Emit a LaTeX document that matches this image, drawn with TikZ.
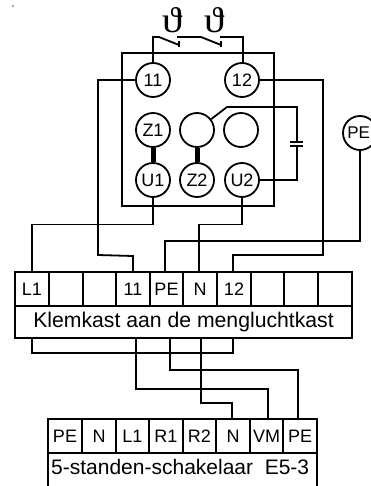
\documentclass[tikz,border=0pt]{standalone}
\usepackage{fontspec}
\setmainfont{Liberation Sans}
\newfontfamily\thetafont{Liberation Serif}
\tikzset{
  wire/.style={line width=1.8pt,line join=miter},
  term/.style={circle,draw,line width=1.8pt,minimum size=34pt,inner sep=0pt,font=\fontsize{18}{18}\selectfont},
  cell/.style={draw,line width=1.8pt,rectangle,inner sep=0pt,font=\fontsize{18}{18}\selectfont},
  wide/.style={draw,line width=1.8pt,rectangle,inner sep=0pt,font=\fontsize{21.2}{21.2}\selectfont},
  therm/.style={inner sep=0pt,font=\thetafont\fontsize{36}{36}\selectfont,xscale=1.15,transform shape},
  link/.style={line width=5pt}
}
\newcommand{\cellat}[6]{\node[cell,minimum width=#3 pt-#1 pt,minimum height=#4 pt-#2 pt] (#5) at ({(#1+#3)/2},{(#2+#4)/2}) {#6};}
\begin{document}
\begin{tikzpicture}[x=1pt,y=-1pt]
\useasboundingbox (0,0) rectangle (370,486);
\fill[white] (0,0) rectangle (370,486);
\fill[gray!70] (12,5) rectangle (14,7);
% housing
\node[draw,line width=1.8pt,minimum width=152pt,minimum height=153pt,inner sep=0pt] (house) at (198,129.5) {};
% terminals
\node[term] (t11) at (153,80) {11};
\node[term] (t12) at (242,80) {12};
\node[term] (z1) at (153,130) {Z1};
\node[term] (b1) at (197,130) {};
\node[term] (b2) at (241,130) {};
\node[term] (u1) at (153,180) {U1};
\node[term] (z2) at (197,180) {Z2};
\node[term] (u2) at (242,180) {U2};
\node[term] (pe) at (360,133) {};
\node[inner sep=0pt,font=\fontsize{17}{17}\selectfont] (pelabel) at (358.7,133) {PE};
\draw[link] (z1) -- (u1);
\draw[link] (b1) -- (z2);
% thermal contacts
\node[therm] (th1) at (172,20) {ϑ};
\node[therm] (th2) at (214,20) {ϑ};
\draw[wire] (t11.north) -- (153,37) -- (159,37) -- (179,45);
\draw[wire] (179,41.5) -- (179,47.5);
\draw[wire] (177,37) -- (201,37) -- (221,45);
\draw[wire] (221,41.5) -- (221,47.5);
\draw[wire] (220,37) -- (243,37) -- (243,63);
% capacitor
\coordinate (cap1) at (297,142);
\coordinate (cap2) at (297,146);
\draw[wire] (b1) -- (227,107) -- (297,107) -- (cap1);
\draw[wire] (290,142) -- (303,142);
\draw[wire] (290,146) -- (303,146);
\draw[wire] (cap2) -- (297,180) -- (u2.east);
% upper terminal strip
\cellat{15}{272}{49}{306}{k1}{L1}
\cellat{49}{272}{83}{306}{k2}{}
\cellat{83}{272}{116}{306}{k3}{}
\cellat{116}{272}{150}{306}{k4}{11}
\cellat{150}{272}{183}{306}{k5}{PE}
\cellat{183}{272}{217}{306}{k6}{N}
\cellat{217}{272}{251}{306}{k7}{12}
\cellat{251}{272}{284}{306}{k8}{}
\cellat{284}{272}{318}{306}{k9}{}
\cellat{318}{272}{352}{306}{k10}{}
\node[wide,minimum width=337pt,minimum height=32pt] (kast) at (183.5,322) {Klemkast aan de mengluchtkast};
% wires to strip
\draw[wire] (u1.south) -- (153,224.5) -- (32,224.5) -- (32,272);
\draw[wire] (t11.west) -- (98,80) -- (98,255) -- (133,256) -- (133,272);
\draw[wire] (u2.south) -- (242,224.5) -- (199,224.5) -- (199,272);
\draw[wire] (pe.south) -- (360,241) -- (165,241) -- (165,272);
\draw[wire] (t12.east) -- (323,80) -- (323,255) -- (233,255) -- (233,272);
% lower strip
\cellat{48}{419}{82}{453}{s1}{PE}
\cellat{82}{419}{116}{453}{s2}{N}
\cellat{116}{419}{149}{453}{s3}{L1}
\cellat{149}{419}{183}{453}{s4}{R1}
\cellat{183}{419}{216}{453}{s5}{R2}
\cellat{216}{419}{250}{453}{s6}{N}
\cellat{250}{419}{283}{453}{s7}{VM}
\cellat{283}{419}{317}{453}{s8}{PE}
\node[anchor=west,inner sep=0pt,font=\fontsize{21}{21}\selectfont] (sw) at (51,467) {5-standen-schakelaar\ \ E5-3};
\draw[wire] (48,453) -- (48,486);
\draw[wire] (317,453) -- (317,486);
% lower wires
\draw[wire] (32,338) -- (32,353) -- (233,353) -- (233,338);
\draw[wire] (136,338) -- (136,389) -- (268,389) -- (268,419);
\draw[wire] (170,338) -- (170,370) -- (298,370) -- (298,419);
\draw[wire] (201,338) -- (201,403) -- (232,403) -- (232,419);
\end{tikzpicture}
\end{document}
